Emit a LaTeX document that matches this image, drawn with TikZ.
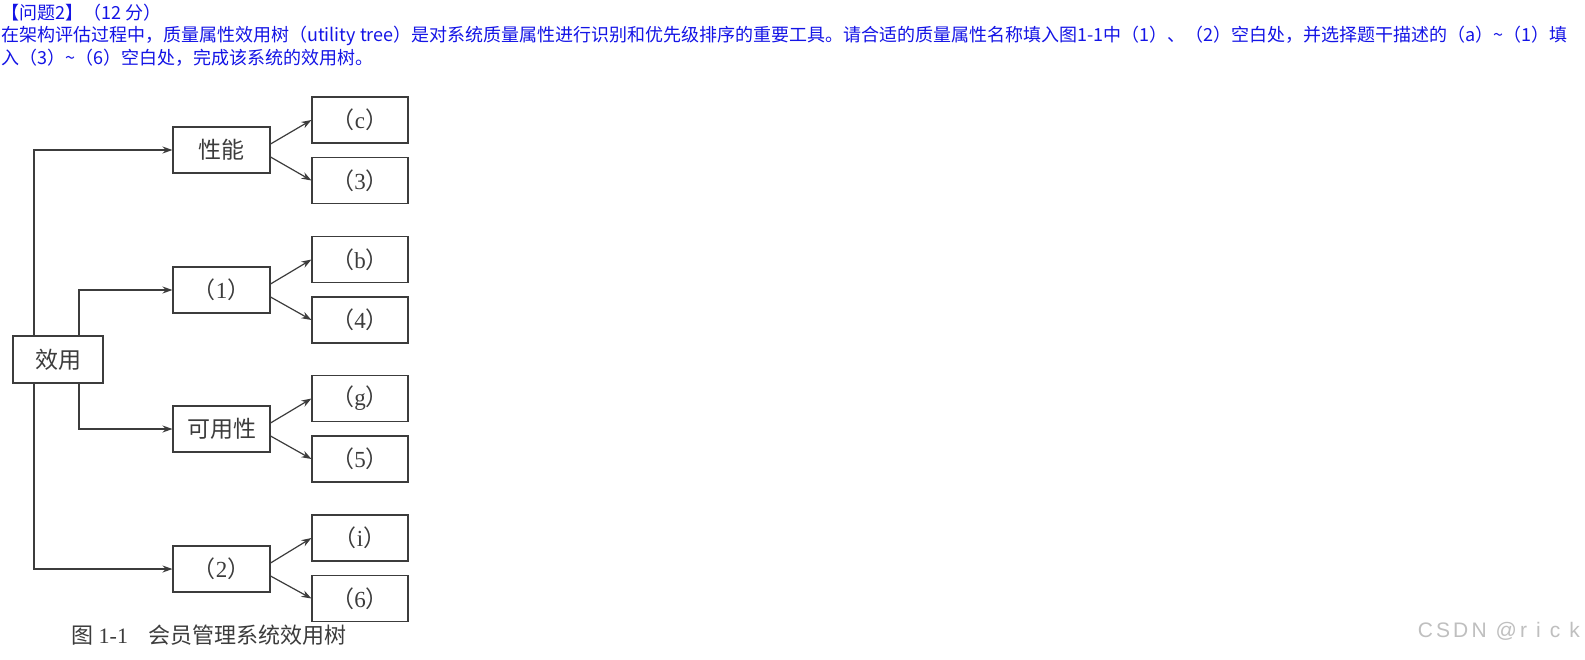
\documentclass[tikz,border=0pt]{standalone}
\usepackage{fontspec}
\setmainfont{Liberation Serif}
\newfontfamily\cjk{Noto Sans CJK SC}
\newfontfamily\wmfont[LetterSpace=15]{Liberation Sans}
\usetikzlibrary{arrows.meta}
\definecolor{qblue}{RGB}{20,20,230}
\definecolor{ink}{RGB}{60,60,60}
\newcommand{\blank}[1]{{\cjk（}#1{\cjk）}}
\tikzset{
	box/.style={draw=ink, line width=1.1pt, minimum height=46pt, inner sep=0pt, text=ink, font=\fontsize{23}{25}\selectfont},
	midbox/.style={box, minimum width=97pt},
	leafbox/.style={box, minimum width=96pt},
	link/.style={draw=ink, line width=1.2pt, -{Stealth[length=10pt,width=7pt]}},
	ask/.style={anchor=west, inner sep=0pt, text=qblue, font=\cjk\fontsize{18}{20}\selectfont}
}
\begin{document}
\begin{tikzpicture}[x=1pt,y=-1pt]
		\useasboundingbox (0,0) rectangle (1585,659);
		\fill[white] (0,0) rectangle (1585,659);
		%Aufgabentext
		\node at (1,13) [ask] (title) {【问题2】（12 分）};
		\node at (1,36) [ask] (line1) {在架构评估过程中，质量属性效用树（utility tree）是对系统质量属性进行识别和优先级排序的重要工具。请合适的质量属性名称填入图1-1中（1）、（2）空白处，并选择题干描述的（a）\textasciitilde（1）填};
		\node at (1,58) [ask] (line2) {入（3）\textasciitilde（6）空白处，完成该系统的效用树。};
		%Wurzel
		\node at (58,359.5) [box, minimum width=90pt, minimum height=47pt] (root) {\cjk 效用};
		%Attribute
		\node at (221.5,150) [midbox] (perf) {\cjk 性能};
		\node at (221.5,290) [midbox] (attr1) {\blank{1}};
		\node at (221.5,429) [midbox] (avail) {\cjk 可用性};
		\node at (221.5,569) [midbox] (attr2) {\blank{2}};
		%Szenarien
		\node at (360,120) [leafbox] (leafc) {\blank{c}};
		\node at (360,180.5) [leafbox] (leaf3) {\blank{3}};
		\node at (360,259.5) [leafbox] (leafb) {\blank{b}};
		\node at (360,320) [leafbox] (leaf4) {\blank{4}};
		\node at (360,398.5) [leafbox] (leafg) {\blank{g}};
		\node at (360,459) [leafbox] (leaf5) {\blank{5}};
		\node at (360,538) [leafbox] (leafi) {\blank{i}};
		\node at (360,598.5) [leafbox] (leaf6) {\blank{6}};
		%Verbindungen Wurzel
		\draw[link] ([xshift=-24pt]root.north) |- (perf);
		\draw[link] ([xshift=21pt]root.north) |- (attr1);
		\draw[link] ([xshift=21pt]root.south) |- (avail);
		\draw[link] ([xshift=-24pt]root.south) |- (attr2);
		%Verbindungen Blaetter
		\draw[link] ([yshift=6pt]perf.east) -- (leafc.west);
		\draw[link] ([yshift=-7pt]perf.east) -- (leaf3.west);
		\draw[link] ([yshift=6pt]attr1.east) -- (leafb.west);
		\draw[link] ([yshift=-7pt]attr1.east) -- (leaf4.west);
		\draw[link] ([yshift=6pt]avail.east) -- (leafg.west);
		\draw[link] ([yshift=-7pt]avail.east) -- (leaf5.west);
		\draw[link] ([yshift=6pt]attr2.east) -- (leafi.west);
		\draw[link] ([yshift=-7pt]attr2.east) -- (leaf6.west);
		%Bildunterschrift
		\node at (71,635) [anchor=west, inner sep=0pt, text=ink, font=\fontsize{22}{24}\selectfont] (caption) {{\cjk 图} 1-1\hspace{20pt}{\cjk 会员管理系统效用树}};
		%Wasserzeichen
		\node at (1580,631) [anchor=east, inner sep=0pt, text=black!25, font=\wmfont\fontsize{21}{23}\selectfont] (mark) {CSDN @r i c k};
\end{tikzpicture}
\end{document}
